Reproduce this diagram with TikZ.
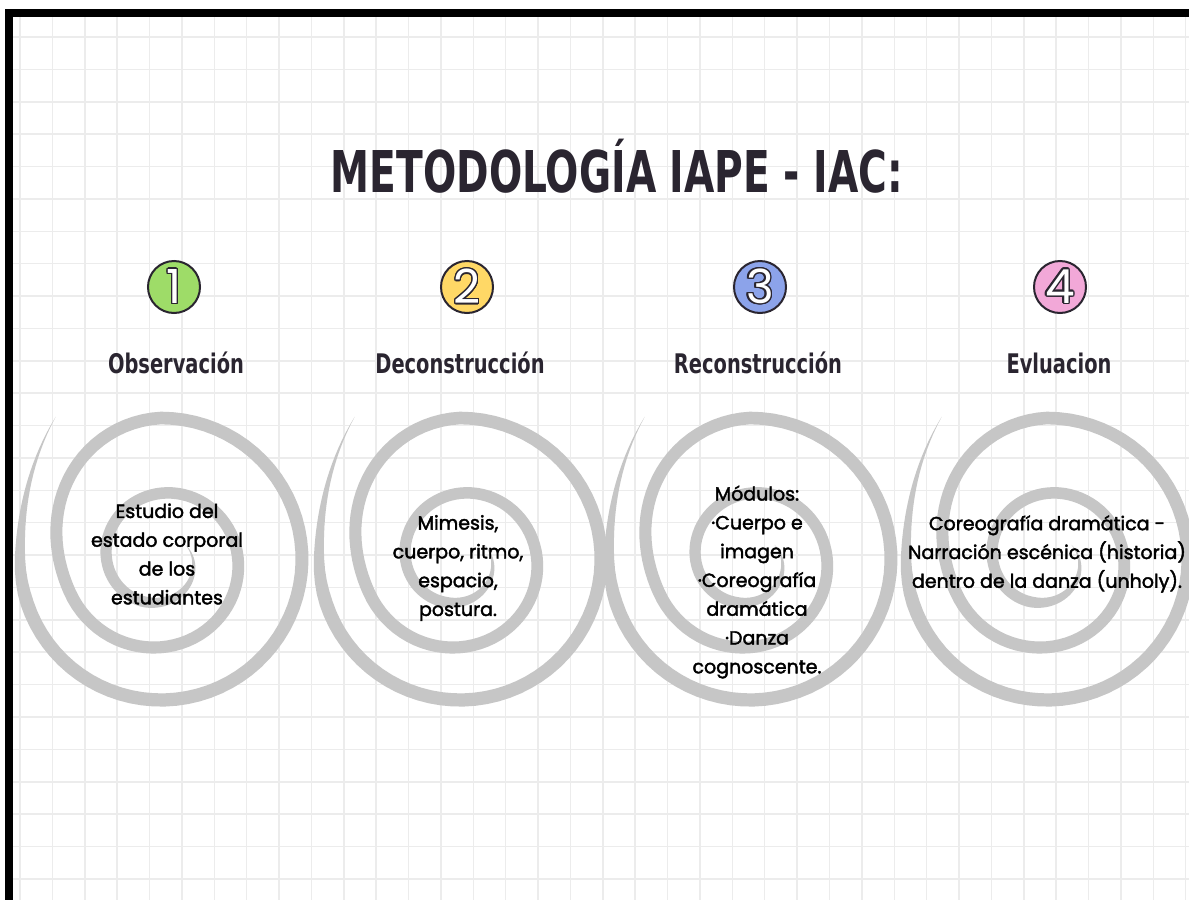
\documentclass[tikz,border=0pt]{standalone}
\usepackage{fontspec}
\usepackage[copies]{contour}
\newfontfamily\bodyfont{Poppins}[FakeBold=2]
\newfontfamily\headfont{DejaVu Sans}
\newfontfamily\digitfont{Poppins}
\contourlength{1.4pt}
\definecolor{gridc}{HTML}{ECECEC}
\definecolor{spiralc}{HTML}{C6C6C6}
\definecolor{inkc}{HTML}{2A2530}
\definecolor{cgreen}{HTML}{9EDC68}
\definecolor{cyellow}{HTML}{FFD866}
\definecolor{cblue}{HTML}{8CA3EA}
\definecolor{cpink}{HTML}{F2A8D8}
\tikzset{
  gridline/.style={gridc, line width=1.5pt},
  body/.style={font=\bodyfont\fontsize{19}{28.8}\selectfont, align=center, inner sep=0pt, text=black},
  steplabel/.style={font=\headfont\bfseries\fontsize{27}{27}\selectfont, anchor=base, inner sep=0pt, text=inkc},
  numcircle/.style={circle, draw=inkc, line width=2pt, minimum size=52pt, inner sep=0pt, font=\digitfont\fontsize{47}{47}\selectfont, text=white},
}
\def\wexpr{(13.5-0.003*(\x-180))*min(1,(\x-126.5)/70)*min(1,(1110-\x)/140)}
\def\blend{15.125*(1+cos((\x-450)*1.6363636))}
\newcommand\drawspiral{%
\fill[spiralc]
 plot[domain=126.5:180, samples=20] ({\x}:{141+36*((180-\x)/53.5)*((180-\x)/53.5)+0.5*\wexpr})
 -- plot[domain=180:450, samples=60] ({\x}:{141+0.5*\wexpr})
 -- plot[domain=450:560, samples=30] ({\x}:{97-0.125*(\x-560)+\blend+0.5*\wexpr})
 -- plot[domain=560:1110, samples=120] ({\x}:{97-0.125*(\x-560)+0.5*\wexpr})
 -- plot[domain=1110:560, samples=120] ({\x}:{97-0.125*(\x-560)-0.5*\wexpr})
 -- plot[domain=560:450, samples=30] ({\x}:{97-0.125*(\x-560)+\blend-0.5*\wexpr})
 -- plot[domain=450:180, samples=60] ({\x}:{141-0.5*\wexpr})
 -- plot[domain=180:126.5, samples=20] ({\x}:{141+36*((180-\x)/53.5)*((180-\x)/53.5)-0.5*\wexpr})
 -- cycle;}
\begin{document}
\begin{tikzpicture}[x=1pt,y=-1pt]
\useasboundingbox (0,0) rectangle (1189,900);
\fill[white] (0,0) rectangle (1189,900);
% grid
\foreach \i in {0,...,26} \draw[gridline] (13,{37+32.38*\i}) -- (1189,{37+32.38*\i});
\foreach \i in {0,...,36} \draw[gridline] ({20+32.38*\i},17) -- ({20+32.38*\i},900);
% border
\fill[black] (5,9) rectangle (1189,17);
\fill[black] (5,9) rectangle (13,900);
% spirals
\foreach \cx in {161,460,750,1047}{
  \begin{scope}[shift={(\cx,559)}, yscale=-1]
    \drawspiral
  \end{scope}
}
% title
\node[anchor=base, inner sep=0pt, text=inkc, font=\headfont\bfseries\fontsize{57.6}{57.6}\selectfont] (title) at (617,192) {\scalebox{0.68}[1]{METODOLOGÍA IAPE - IAC:}};
% number circles
\node[numcircle, fill=cgreen] (n1) at (174,287) {\contour{inkc}{1}};
\node[numcircle, fill=cyellow] (n2) at (467,287) {\contour{inkc}{2}};
\node[numcircle, fill=cblue] (n3) at (760,287) {\contour{inkc}{3}};
\node[numcircle, fill=cpink] (n4) at (1060,287) {\contour{inkc}{4}};
% step labels
\node[steplabel] (l1) at (176,373) {\scalebox{0.72}[1]{Observación}};
\node[steplabel] (l2) at (460,373) {\scalebox{0.72}[1]{Deconstrucción}};
\node[steplabel] (l3) at (758,373) {\scalebox{0.72}[1]{Reconstrucción}};
\node[steplabel] (l4) at (1059,373) {\scalebox{0.72}[1]{Evluacion}};
% texts
\node[body] (t1) at (167,554) {Estudio del\\estado corporal\\de los\\estudiantes};
\node[body] (t2) at (458,568) {Mimesis,\\cuerpo, ritmo,\\espacio,\\postura.};
\node[body] (t3) at (757,582) {Módulos:\\·Cuerpo e\\imagen\\·Coreografía\\dramática\\·Danza\\cognoscente.};
\node[body] (t4) at (1047,554) {Coreografía dramática -\\Narración escénica (historia)\\dentro de la danza (unholy).};
\end{tikzpicture}
\end{document}
